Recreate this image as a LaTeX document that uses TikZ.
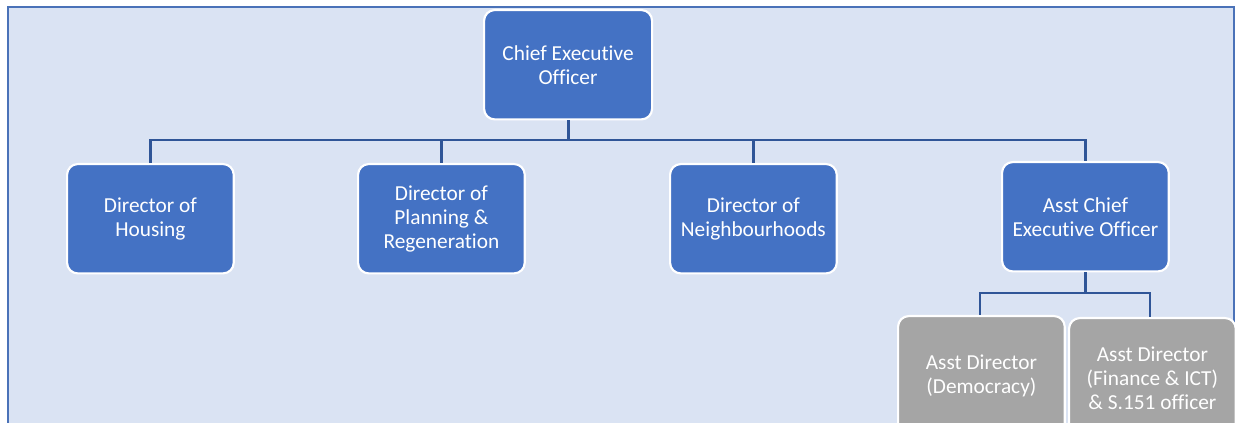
\documentclass[tikz,border=0pt]{standalone}
\usepackage{fontspec}
\setmainfont[Ligatures=NoCommon]{Carlito}
\definecolor{bgblue}{HTML}{DAE3F3}
\definecolor{boxblue}{HTML}{4472C4}
\definecolor{lineblue}{HTML}{2F5597}
\definecolor{framblue}{HTML}{4A72B8}
\definecolor{boxgray}{HTML}{A5A5A5}
\begin{document}
\begin{tikzpicture}[x=0.75pt,y=-0.75pt,
  orgbox/.style={draw=white, line width=1.6pt, rounded corners=8pt, fill=boxblue,
    text=white, align=center, minimum width=125pt, minimum height=82pt,
    inner sep=2pt, font=\fontsize{16}{18}\selectfont, anchor=north west},
  graybox/.style={orgbox, fill=boxgray},
  link/.style={draw=lineblue, line width=2.2pt}]
\useasboundingbox (0,0) rectangle (1237,423);
\begin{scope}
\clip (0,0) rectangle (1237,423);
\fill[white] (0,0) rectangle (1237,423);
\fill[bgblue] (8,7) rectangle (1234,440);
\draw[framblue, line width=1.6pt] (8,440) -- (8,7) -- (1234,7) -- (1234,440);
% nodes
\node[orgbox, minimum width=126pt] (ceo) at (483,9) {Chief Executive\\Officer};
\node[orgbox] (hou) at (66,163) {Director of\\Housing};
\node[orgbox] (pla) at (357,163) {Director of\\Planning \&\\Regeneration};
\node[orgbox] (nei) at (669,163) {Director of\\Neighbourhoods};
\node[orgbox] (ace) at (1001,161) {Asst Chief\\Executive Officer};
\node[graybox, minimum height=90pt] (dem) at (897,315) {Asst Director\\(Democracy)};
\node[graybox, minimum height=90pt] (fin) at (1068,317) {Asst Director\\(Finance \& ICT)\\\& S.151 officer};
% connectors
\coordinate (busL) at (149,140);
\draw[link] (ceo.south) -- (ceo.south |- busL);
\draw[link] (hou.north) |- (ace.north |- busL) -- (ace.north);
\draw[link] (pla.north) -- (pla.north |- busL);
\draw[link] (nei.north) -- (nei.north |- busL);
\coordinate (bus2) at (1085,293);
\draw[link] (ace.south) -- (ace.south |- bus2);
\draw[link] (dem.north -| 980,0) |- (1150,293) -- (1150,317);
\end{scope}
\end{tikzpicture}
\end{document}
